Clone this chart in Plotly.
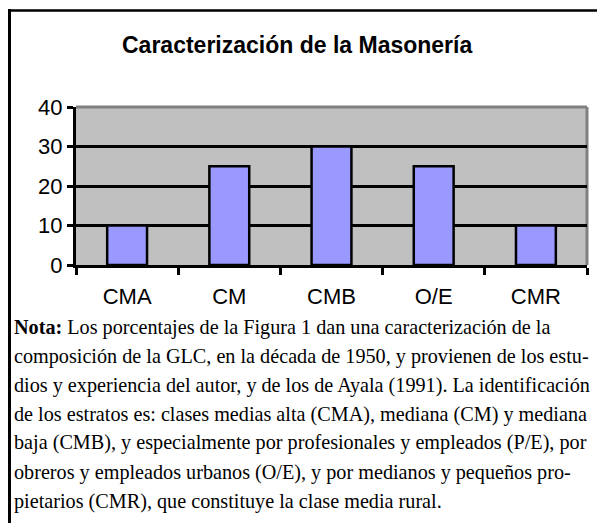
import plotly.graph_objects as go

categories = ["CMA", "CM", "CMB", "O/E", "CMR"]
values = [10, 25, 30, 25, 10]
y_ticks = [0, 10, 20, 30, 40]
title_text = "Caracterización de la Masonería"
note_lines = [
    "<b>Nota:</b> Los porcentajes de la Figura 1 dan una caracterización de la",
    "composición de la GLC, en la década de 1950, y provienen de los estu-",
    "dios y experiencia del autor, y de los de Ayala (1991). La identificación",
    "de los estratos es: clases medias alta (CMA), mediana (CM) y mediana",
    "baja (CMB), y especialmente por profesionales y empleados (P/E), por",
    "obreros y empleados urbanos (O/E), y por medianos y pequeños pro-",
    "pietarios (CMR), que constituye la clase media rural.",
]

W, H = 605, 523
OFF = 8  # page body margin
L, T = 76 - OFF, 107 - OFF
PW, PH = 511, 158
R = W - L - PW
B = H - T - PH


def px(x):
    return (x - OFF - L) / PW


def py(y):
    return (T + PH - (y - OFF)) / PH


fig = go.Figure(
    go.Bar(
        x=categories,
        y=values,
        width=0.39,
        marker=dict(color="#9999FF", line=dict(color="black", width=2.5)),
    )
)

shapes = [
    dict(type="line", xref="paper", yref="paper", x0=0, x1=1, y0=1, y1=1,
         line=dict(color="#808080", width=3), layer="below"),
    dict(type="line", xref="paper", yref="paper", x0=1, x1=1, y0=0, y1=1,
         line=dict(color="#808080", width=3), layer="below"),
    dict(type="line", xref="paper", yref="paper", x0=px(9.5), x1=px(9.5),
         y0=py(9), y1=py(540), line=dict(color="black", width=3)),
    dict(type="line", xref="paper", yref="paper", x0=px(8), x1=px(620),
         y0=py(10.5), y1=py(10.5), line=dict(color="black", width=2.5)),
]

annotations = []
line_y0 = 327
line_gap = 29
for i, t in enumerate(note_lines):
    annotations.append(dict(
        text=t, xref="paper", yref="paper", x=px(12), y=py(line_y0 + i * line_gap),
        xanchor="left", yanchor="middle", showarrow=False,
        font=dict(family="Liberation Serif, serif", size=20.2, color="black"),
    ))

annotations.append(dict(
    text="<b>" + title_text + "</b>", xref="paper", yref="paper",
    x=px(297), y=py(45), xanchor="center", yanchor="middle", showarrow=False,
    font=dict(family="Liberation Sans, Arial", size=23, color="black"),
))

fig.update_layout(
    width=W, height=H,
    margin=dict(l=L, r=R, t=T, b=B, pad=0),
    paper_bgcolor="white",
    plot_bgcolor="#C0C0C0",
    showlegend=False,
    shapes=shapes,
    annotations=annotations,
    xaxis=dict(
        showgrid=False, showline=True, linecolor="black", linewidth=3,
        ticks="outside", tickson="boundaries", ticklen=7, tickwidth=3, tickcolor="black",
        tickfont=dict(family="Liberation Sans, Arial", size=22, color="black"),
        ticklabelstandoff=10,
        fixedrange=True,
    ),
    yaxis=dict(
        range=[0, 40], tickvals=y_ticks, showgrid=True, gridcolor="black", gridwidth=3,
        showline=True, linecolor="black", linewidth=3, zeroline=False,
        ticks="outside", ticklen=6, tickwidth=3, tickcolor="black",
        tickfont=dict(family="Liberation Sans, Arial", size=22, color="black"),
        fixedrange=True,
    ),
)

fig.write_html("out.html")
